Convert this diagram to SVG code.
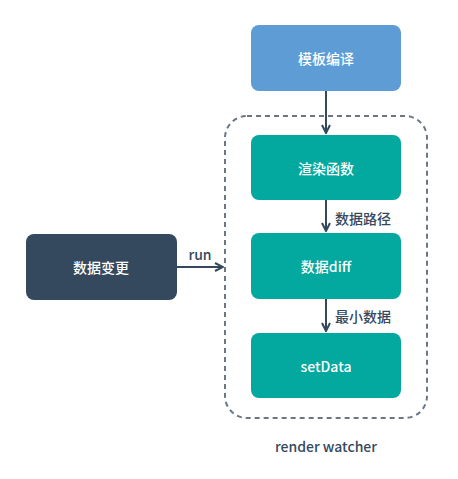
<svg xmlns="http://www.w3.org/2000/svg" width="458" height="479" viewBox="0 0 458 479">
<defs>
<style>
.teal{fill:#03a89e}
.lbl{font-family:"Noto Sans CJK SC","Noto Sans",sans-serif;font-size:14px;font-weight:500;fill:#ffffff;text-anchor:middle;dominant-baseline:central}
.edge{font-family:"Noto Sans CJK SC","Noto Sans",sans-serif;font-size:14px;font-weight:500;fill:#34495e}
.ln{stroke:#34495e;stroke-width:2;fill:none}
</style>
<marker id="ah" viewBox="0 0 10 10" refX="9" refY="5" markerWidth="10" markerHeight="10" markerUnits="userSpaceOnUse" orient="auto">
<path d="M1,1 L9,5 L1,9" fill="none" stroke="#34495e" stroke-width="2"/>
</marker>
</defs>
<rect x="0" y="0" width="458" height="479" fill="#ffffff"/>
<g id="container">
<rect x="225" y="116" width="202" height="302" rx="22" fill="none" stroke="#6b7785" stroke-width="2" stroke-dasharray="5,4"/>
<text x="326" y="446" class="edge" text-anchor="middle" dominant-baseline="central">render watcher</text>
</g>
<g id="connectors">
<line class="ln" x1="326" y1="91" x2="326" y2="133" marker-end="url(#ah)"/>
<line class="ln" x1="326" y1="200" x2="326" y2="231" marker-end="url(#ah)"/>
<line class="ln" x1="326" y1="299" x2="326" y2="331" marker-end="url(#ah)"/>
<line class="ln" x1="177" y1="267" x2="223" y2="267" marker-end="url(#ah)"/>
<text class="edge" x="200" y="254" text-anchor="middle" dominant-baseline="central">run</text>
<text class="edge" x="335" y="218" dominant-baseline="central">数据路径</text>
<text class="edge" x="335" y="316" dominant-baseline="central">最小数据</text>
</g>
<g id="n-template">
<rect x="251" y="25" width="150" height="66" rx="8" fill="#5e9cd6"/>
<text class="lbl" x="326" y="58">模板编译</text>
</g>
<g id="n-render">
<rect class="teal" x="251" y="135" width="150" height="65" rx="8"/>
<text class="lbl" x="326" y="168">渲染函数</text>
</g>
<g id="n-diff">
<rect class="teal" x="251" y="233" width="150" height="66" rx="8"/>
<text class="lbl" x="326" y="266">数据diff</text>
</g>
<g id="n-setdata">
<rect class="teal" x="251" y="333" width="150" height="65" rx="8"/>
<text class="lbl" x="326" y="366">setData</text>
</g>
<g id="n-change">
<rect x="26" y="234" width="151" height="66" rx="8" fill="#34495e"/>
<text class="lbl" x="101" y="267">数据变更</text>
</g>
</svg>
